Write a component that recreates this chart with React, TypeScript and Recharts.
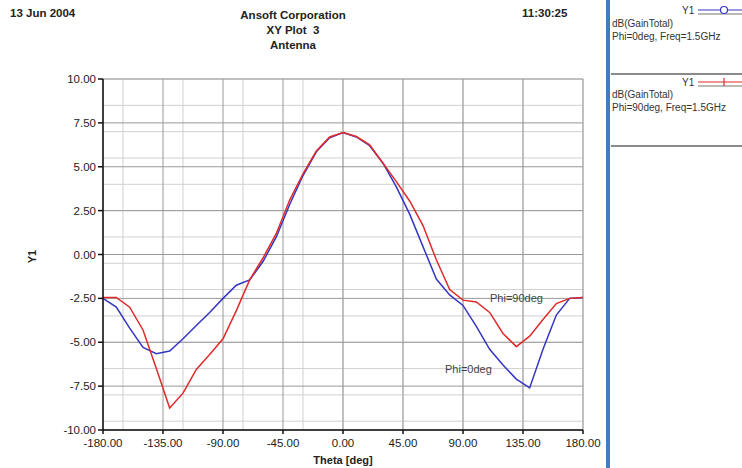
import { LineChart, Line, XAxis, YAxis, CartesianGrid } from 'recharts';

const theta = [
  -180, -170, -160, -150, -140, -130, -120, -110, -100, -90, -80, -70, -60, -50, -40, -30, -20, -10,
  0, 10, 20, 30, 40, 50, 60, 70, 80, 90, 100, 110, 120, 130, 140, 150, 160, 170, 180,
];

// dB(GainTotal), Phi=0deg
const phi0 = [
  -2.5, -3.0, -4.2, -5.3, -5.65, -5.5, -4.8, -4.05, -3.3, -2.5, -1.75, -1.45, -0.4, 1.0, 2.85, 4.5, 5.85, 6.65,
  6.95, 6.7, 6.2, 5.2, 3.85, 2.3, 0.45, -1.4, -2.3, -2.9, -4.1, -5.4, -6.3, -7.1, -7.6, -5.4, -3.45, -2.5, -2.45,
];

// dB(GainTotal), Phi=90deg
const phi90 = [
  -2.45, -2.45, -3.0, -4.3, -6.5, -8.75, -7.9, -6.55, -5.7, -4.8, -3.2, -1.45, -0.2, 1.2, 3.1, 4.6, 5.9, 6.7,
  6.95, 6.72, 6.25, 5.2, 4.15, 3.05, 1.65, -0.3, -2.0, -2.6, -2.7, -3.3, -4.5, -5.25, -4.65, -3.7, -2.8, -2.5, -2.45,
];

const xTicks = [-180, -135, -90, -45, 0, 45, 90, 135, 180];
const yTicks = [-10, -7.5, -5, -2.5, 0, 2.5, 5, 7.5, 10];

const xMinor: number[] = [];
for (let v = -180; v <= 180; v += 15) xMinor.push(v);
const yMinor: number[] = [];
for (let v = -10; v <= 10; v += 0.5) yMinor.push(v);

const data = theta.map((t, i) => ({ theta: t, phi0: phi0[i], phi90: phi90[i] }));

const FONT = '"Liberation Sans", Arial, sans-serif';

const abs = (left: number, top: number, extra: any = {}) => ({
  position: 'absolute' as const,
  left,
  top,
  whiteSpace: 'nowrap' as const,
  lineHeight: 1,
  ...extra,
});

export default function App() {
  const tickStyle = { fontSize: 11.5, fill: '#222', fontFamily: FONT };
  return (
    <div style={{ position: 'absolute', left: 0, top: 0, width: 742, height: 468, background: '#fff', fontFamily: FONT, overflow: 'hidden' }}>
      <LineChart
        width={742}
        height={468}
        data={data}
        margin={{ top: 79, right: 159, bottom: 0, left: 43 }}
      >
        <CartesianGrid stroke="#d0d0d0" verticalValues={xMinor} horizontalValues={yMinor} />
        <CartesianGrid stroke="#999" verticalValues={xTicks} horizontalValues={yTicks} />
        <XAxis
          type="number"
          dataKey="theta"
          domain={[-180, 180]}
          ticks={xTicks}
          tickFormatter={(v: number) => v.toFixed(2)}
          tick={tickStyle}
          tickSize={4}
          tickMargin={5}
          stroke="#111"
          strokeWidth={1.5}
          height={38}
          allowDataOverflow
          label={{ value: 'Theta [deg]', position: 'insideBottom', offset: 4, style: { fontSize: 11, fontWeight: 'bold', fill: '#222', fontFamily: FONT } }}
        />
        <YAxis
          type="number"
          domain={[-10, 10]}
          ticks={yTicks}
          tickFormatter={(v: number) => v.toFixed(2)}
          tick={tickStyle}
          tickSize={5}
          tickMargin={2}
          stroke="#111"
          strokeWidth={1.5}
          width={60}
          allowDataOverflow
        />
        <Line dataKey="phi0" stroke="#3535c4" strokeWidth={1.5} dot={false} isAnimationActive={false} />
        <Line dataKey="phi90" stroke="#e02a2a" strokeWidth={1.5} dot={false} isAnimationActive={false} />
      </LineChart>

      {/* header */}
      <div style={abs(10, 8, { fontSize: 11.5, fontWeight: 'bold', color: '#222' })}>13 Jun 2004</div>
      <div style={abs(193, 8, { width: 200, textAlign: 'center', fontSize: 11.5, fontWeight: 'bold', color: '#222', lineHeight: '15px' })}>
        Ansoft Corporation
        <br />
        XY Plot&nbsp;&nbsp;3
        <br />
        Antenna
      </div>
      <div style={abs(522, 8, { fontSize: 11.5, fontWeight: 'bold', color: '#222' })}>11:30:25</div>

      {/* y axis title */}
      <div style={abs(26, 251, { fontSize: 11, fontWeight: 'bold', color: '#222', transform: 'rotate(-90deg)' })}>Y1</div>

      {/* curve labels */}
      <div style={abs(490, 293, { fontSize: 11, color: '#444' })}>Phi=90deg</div>
      <div style={abs(445, 364, { fontSize: 11, color: '#444' })}>Phi=0deg</div>

      {/* legend panel */}
      <div style={abs(606, 0, { width: 4, height: 468, background: '#3f7dc0' })} />
      <div style={abs(611, 73, { width: 131, height: 2, background: '#8a8a8a' })} />
      <div style={abs(611, 145, { width: 131, height: 2, background: '#8a8a8a' })} />

      <div style={abs(682, 6, { fontSize: 10, color: '#333' })}>Y1</div>
      <svg style={abs(698, 4)} width={44} height={14}>
        <line x1={0} y1={6} x2={44} y2={6} stroke="#3535c4" strokeWidth={1.2} />
        <line x1={0} y1={10} x2={44} y2={10} stroke="#777" strokeWidth={1.2} />
        <circle cx={26} cy={6} r={3.5} fill="#fff" stroke="#3535c4" strokeWidth={1.2} />
      </svg>
      <div style={abs(612, 19, { fontSize: 10, color: '#333' })}>dB(GainTotal)</div>
      <div style={abs(612, 32, { fontSize: 10, color: '#333' })}>Phi=0deg, Freq=1.5GHz</div>

      <div style={abs(682, 78, { fontSize: 10, color: '#333' })}>Y1</div>
      <svg style={abs(698, 76)} width={44} height={14}>
        <line x1={0} y1={6} x2={44} y2={6} stroke="#e02a2a" strokeWidth={1.2} />
        <line x1={0} y1={10} x2={44} y2={10} stroke="#777" strokeWidth={1.2} />
        <line x1={26} y1={2} x2={26} y2={10} stroke="#e02a2a" strokeWidth={1.2} />
      </svg>
      <div style={abs(612, 90, { fontSize: 10, color: '#333' })}>dB(GainTotal)</div>
      <div style={abs(612, 103, { fontSize: 10, color: '#333' })}>Phi=90deg, Freq=1.5GHz</div>
    </div>
  );
}
